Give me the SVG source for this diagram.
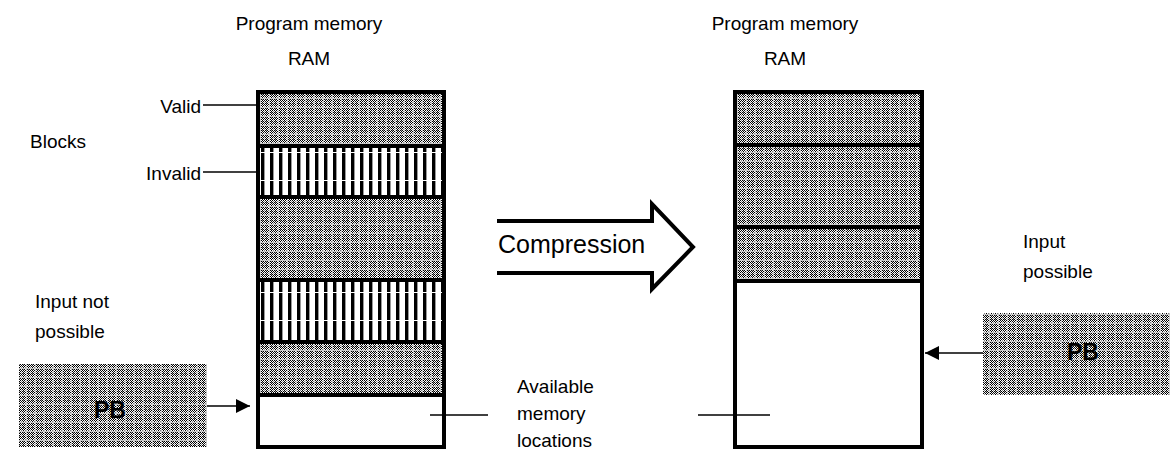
<svg xmlns="http://www.w3.org/2000/svg" width="1170" height="455" viewBox="0 0 1170 455">
<defs>
<pattern id="dots" x="0" y="0" width="4" height="4" patternUnits="userSpaceOnUse">
<rect width="4" height="4" fill="#ffffff"/>
<rect x="0" y="0" width="1" height="1" fill="#000"/>
<rect x="2" y="0" width="1" height="1" fill="#000"/>
<rect x="1" y="1" width="1" height="1" fill="#000"/>
<rect x="3" y="1" width="1" height="1" fill="#000"/>
<rect x="0" y="2" width="1" height="1" fill="#000"/>
<rect x="2" y="2" width="1" height="1" fill="#000"/>
<rect x="1" y="3" width="1" height="1" fill="#000"/>
<rect x="3" y="3" width="1" height="1" fill="#808080"/>
<rect x="1" y="0" width="1" height="1" fill="#a0a0a0"/>
</pattern>
<pattern id="checker" x="0" y="0" width="9" height="9" patternUnits="userSpaceOnUse">
<rect width="9" height="9" fill="url(#dots)"/>
<rect x="8" y="0" width="1" height="9" fill="#c8c8c8"/>
<rect x="0" y="8" width="9" height="1" fill="#c8c8c8"/>
</pattern>
<pattern id="stripes" x="0" y="0" width="9" height="28" patternUnits="userSpaceOnUse">
<rect width="9" height="28" fill="#ffffff"/>
<rect x="0" y="0" width="3" height="28" fill="#000"/>
<rect x="3" y="0" width="1" height="28" fill="#999"/>
<rect x="0" y="12" width="9" height="1" fill="#ffffff"/>
</pattern>
<marker id="ah" viewBox="0 0 10 10" refX="10" refY="5" markerWidth="17" markerHeight="14" markerUnits="userSpaceOnUse" orient="auto">
<path d="M0,0 L10,5 L0,10 Z" fill="#000"/>
</marker>
<style>
text{font-family:"Liberation Sans",Arial,sans-serif;font-size:19px;fill:#000}
.pb{font-weight:bold;font-size:23px}
.big{font-size:25px}
.frame{fill:none;stroke:#000;stroke-width:4}
.div{stroke:#000;stroke-width:4}
.ln{stroke:#000;stroke-width:1.5;fill:none}
</style>
</defs>

<g id="titles">
<text x="309" y="30" text-anchor="middle">Program memory</text>
<text x="309" y="65" text-anchor="middle">RAM</text>
<text x="785" y="30" text-anchor="middle">Program memory</text>
<text x="785" y="65" text-anchor="middle">RAM</text>
</g>

<g id="left-memory">
<rect x="258" y="92" width="186" height="54" fill="url(#checker)" shape-rendering="crispEdges"/>
<rect x="258" y="146" width="186" height="51" fill="url(#stripes)" shape-rendering="crispEdges"/>
<rect x="258" y="197" width="186" height="83" fill="url(#checker)" shape-rendering="crispEdges"/>
<rect x="258" y="280" width="186" height="62" fill="url(#stripes)" shape-rendering="crispEdges"/>
<rect x="258" y="342" width="186" height="53" fill="url(#checker)" shape-rendering="crispEdges"/>
<rect x="258" y="395" width="186" height="52" fill="#fff"/>
<line class="div" x1="258" y1="146" x2="444" y2="146"/>
<line class="div" x1="258" y1="197" x2="444" y2="197"/>
<line class="div" x1="258" y1="280" x2="444" y2="280"/>
<line class="div" x1="258" y1="342" x2="444" y2="342"/>
<line class="div" x1="258" y1="395" x2="444" y2="395"/>
<rect class="frame" x="258" y="92" width="186" height="355"/>
</g>

<g id="right-memory">
<rect x="735" y="92" width="187" height="53" fill="url(#checker)" shape-rendering="crispEdges"/>
<rect x="735" y="145" width="187" height="82" fill="url(#checker)" shape-rendering="crispEdges"/>
<rect x="735" y="227" width="187" height="54" fill="url(#checker)" shape-rendering="crispEdges"/>
<rect x="735" y="281" width="187" height="166" fill="#fff"/>
<line class="div" x1="735" y1="145" x2="922" y2="145"/>
<line class="div" x1="735" y1="227" x2="922" y2="227"/>
<line class="div" x1="735" y1="281" x2="922" y2="281"/>
<rect class="frame" x="735" y="92" width="187" height="355"/>
</g>

<g id="labels">
<text x="201" y="113" text-anchor="end">Valid</text>
<text x="30" y="148">Blocks</text>
<text x="201" y="180" text-anchor="end">Invalid</text>
<text x="35" y="308">Input not</text>
<text x="35" y="338">possible</text>
<text x="1023" y="248">Input</text>
<text x="1023" y="278">possible</text>
<text x="517" y="393">Available</text>
<text x="517" y="420">memory</text>
<text x="517" y="447">locations</text>
</g>

<g id="pb-left">
<rect x="19" y="364" width="188" height="83" fill="url(#checker)" shape-rendering="crispEdges"/>
<text class="pb" x="110" y="418" text-anchor="middle">PB</text>
</g>

<g id="pb-right">
<rect x="983" y="313" width="187" height="82" fill="url(#checker)" shape-rendering="crispEdges"/>
<text class="pb" x="1083" y="360" text-anchor="middle">PB</text>
</g>

<g id="compression">
<path d="M497,221 H652 V204 L693,247 L652,289 V273 H497" fill="none" stroke="#000" stroke-width="4" stroke-linejoin="miter"/>
<text class="big" x="498" y="253">Compression</text>
</g>

<g id="connectors">
<line class="ln" x1="203" y1="105" x2="258" y2="105"/>
<line class="ln" x1="203" y1="172" x2="258" y2="172"/>
<line class="ln" x1="207" y1="406" x2="250" y2="406" marker-end="url(#ah)"/>
<line class="ln" x1="983" y1="353" x2="925" y2="353" marker-end="url(#ah)"/>
<line class="ln" x1="430" y1="415" x2="488" y2="415"/>
<line class="ln" x1="698" y1="415" x2="770" y2="415"/>
</g>
</svg>
